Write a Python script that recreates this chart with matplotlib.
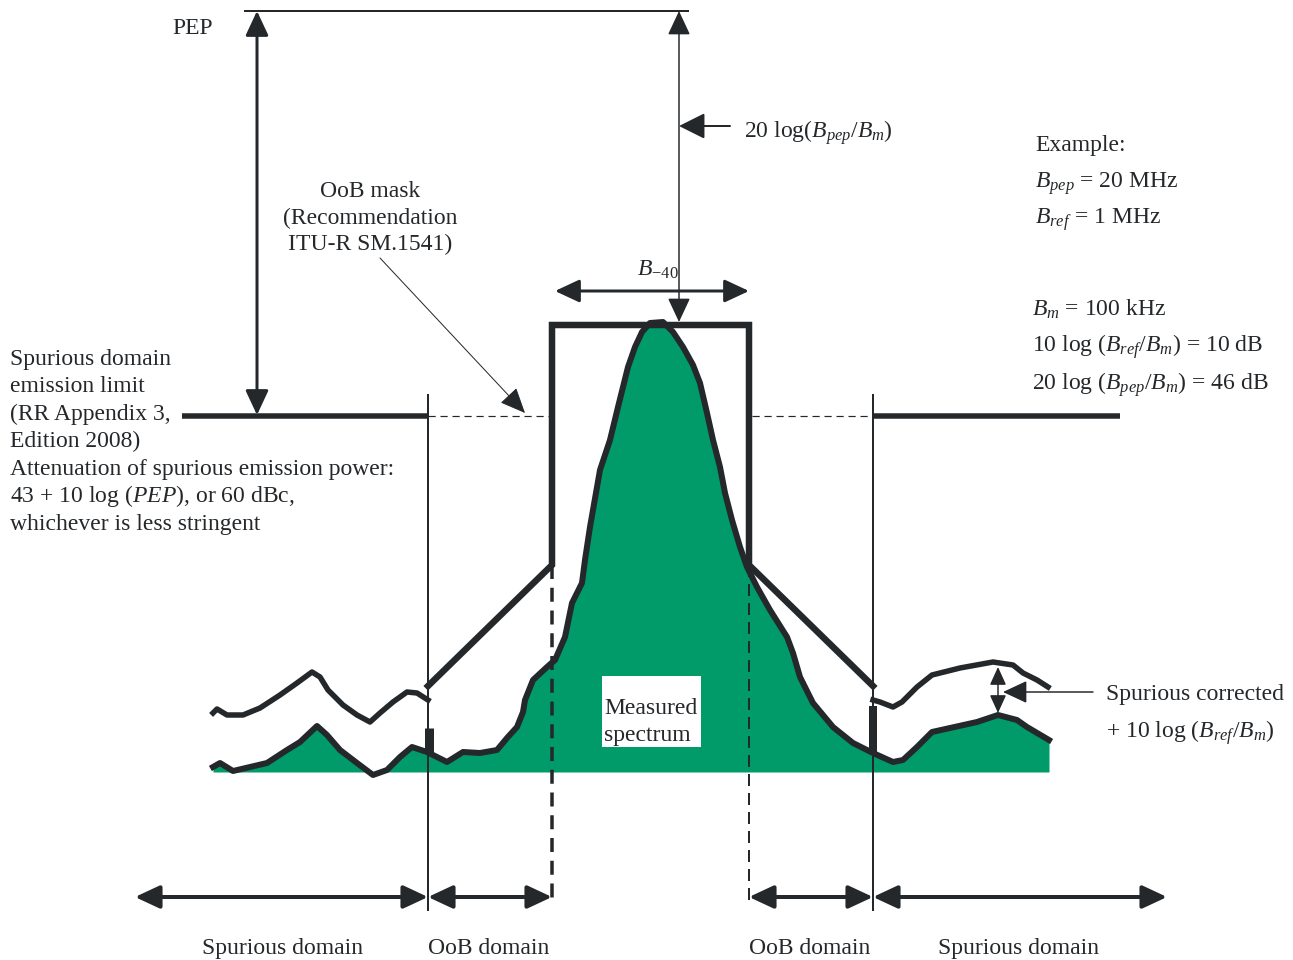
import matplotlib
matplotlib.use("Agg")
import matplotlib.pyplot as plt
from matplotlib.patches import Rectangle

plt.rcParams['font.family'] = ['Liberation Serif', 'DejaVu Serif']
plt.rcParams['mathtext.fontset'] = 'custom'
plt.rcParams['mathtext.rm'] = 'Liberation Serif'
plt.rcParams['mathtext.it'] = 'Liberation Serif:italic'
plt.rcParams['mathtext.bf'] = 'Liberation Serif:bold'

# ---------------- data (diagram units = reference pixels) ----------------
spec_x = [213, 220, 233, 250, 267, 287, 300, 317, 327, 340, 357, 373, 387, 400, 412, 427,
          447, 463, 480, 497, 507, 517, 523, 525, 533, 547, 555, 565, 572, 582, 585, 590,
          600, 610, 618, 628, 635, 642, 650, 663, 673, 683, 693, 700, 707, 713, 720, 725,
          732, 740, 747, 757, 770, 787, 793, 800, 813, 833, 853, 873, 893, 903, 917, 932,
          950, 977, 998, 1017, 1027, 1049]
spec_y = [767, 763, 771, 767, 763, 750, 742, 726, 735, 750, 763, 775, 770, 757, 747, 752,
          762, 752, 753, 750, 738, 727, 712, 700, 680, 667, 660, 637, 603, 583, 560, 527,
          470, 440, 407, 367, 347, 332, 323, 322, 332, 347, 365, 383, 413, 440, 467, 493,
          520, 547, 567, 587, 610, 637, 653, 677, 703, 727, 743, 753, 762, 760, 747, 732,
          728, 722, 715, 720, 727, 740]
spec_base = 772

corr_left_x = [213, 217, 227, 243, 260, 280, 297, 312, 320, 328, 343, 357, 370, 380, 393, 407, 417, 428]
corr_left_y = [713, 709, 715, 715, 708, 695, 683, 672, 677, 690, 705, 715, 722, 713, 702, 692, 693, 700]
corr_right_x = [873, 880, 893, 902, 917, 932, 960, 993, 1013, 1023, 1037, 1048]
corr_right_y = [700, 702, 707, 702, 687, 675, 668, 662, 665, 673, 680, 687]

mask_x = [428, 552, 552, 749, 749, 873]
mask_y = [686, 565, 325, 325, 565, 686]

limit_y = 416
limit_left = [182, 428]
limit_right = [873, 1120]

domain_edges = [135, 428, 552, 749, 873, 1167]
domain_labels = ["Spurious domain", "OoB domain", "OoB domain", "Spurious domain"]
domain_label_x = [283, 489, 810, 1019]

left_text = ["Spurious domain", "emission limit", "(RR Appendix 3,", "Edition 2008)",
             "Attenuation of spurious emission power:", "43 + 10 log ($PEP$), or 60 dBc,",
             "whichever is less stringent"]
left_text_y = [365, 392, 420, 447, 475, 502, 530]

example_text = ["Example:", "$B_{pep}$ = 20 MHz", "$B_{ref}$ = 1 MHz",
                "$B_m$ = 100 kHz", "10 log ($B_{ref}/B_m$) = 10 dB",
                "20 log ($B_{pep}/B_m$) = 46 dB"]
example_x = [1035, 1035, 1035, 1032, 1032, 1032]
example_y = [151, 188, 224, 316, 352, 390]

oob_text = ["OoB mask", "(Recommendation", "ITU-R SM.1541)"]
oob_text_y = [197, 224, 250]

DARK = '#25282b'
GREEN = '#009b69'
PX = 0.72  # points per pixel at dpi 100

fig = plt.figure(figsize=(12.93, 9.6), dpi=100)
ax = fig.add_axes([0, 0, 1, 1])
ax.set_xlim(0, 1293)
ax.set_ylim(960, 0)
ax.axis('off')


def arrow(x0, y0, x1, y1, style='-|>', lw=3, hl=0.75, hw=0.35, ms=20, z=5):
    ax.annotate('', xy=(x1, y1), xytext=(x0, y0),
                arrowprops=dict(arrowstyle=f'{style},head_length={hl},head_width={hw}',
                                lw=lw * PX, color=DARK, shrinkA=0, shrinkB=0,
                                mutation_scale=ms), zorder=z)


# spectrum fill and outline
ax.fill_between(spec_x, spec_y, spec_base, color=GREEN, lw=0, zorder=1)
ax.plot(spec_x, spec_y, color=DARK, lw=6 * PX, solid_joinstyle='round', zorder=3)
ax.plot(corr_left_x, corr_left_y, color=DARK, lw=5.5 * PX, solid_joinstyle='round', zorder=3)
ax.plot(corr_right_x, corr_right_y, color=DARK, lw=5.5 * PX, solid_joinstyle='round', zorder=3)

# mask
ax.plot(mask_x, mask_y, color=DARK, lw=6.5 * PX, solid_joinstyle='miter', zorder=4)

# spurious limit lines
ax.plot(limit_left, [limit_y, limit_y], color=DARK, lw=5.5 * PX, solid_capstyle='butt', zorder=4)
ax.plot(limit_right, [limit_y, limit_y], color=DARK, lw=5.5 * PX, solid_capstyle='butt', zorder=4)
ax.plot([428, 549], [limit_y, limit_y], color=DARK, lw=1.2 * PX, ls=(0, (6, 4)), zorder=2)
ax.plot([752, 873], [limit_y, limit_y], color=DARK, lw=1.2 * PX, ls=(0, (6, 4)), zorder=2)

# domain boundaries
ax.plot([428, 428], [395, 910], color=DARK, lw=2 * PX, zorder=4)
ax.plot([873, 873], [395, 910], color=DARK, lw=2 * PX, zorder=4)
ax.plot([552, 552], [565, 905], color=DARK, lw=3.5 * PX, ls=(0, (4, 2.5)), zorder=4)
ax.plot([749, 749], [565, 905], color=DARK, lw=2 * PX, ls=(0, (6, 3.5)), zorder=4)
ax.plot([429, 429], [728, 752], color=DARK, lw=9 * PX, solid_capstyle='butt', zorder=4)
ax.plot([873, 873], [706, 752], color=DARK, lw=8 * PX, solid_capstyle='butt', zorder=4)

# PEP reference line and arrows
ax.plot([245, 688], [11, 11], color=DARK, lw=2 * PX, zorder=4)
arrow(257, 415, 257, 11, style='<|-|>', lw=3)
arrow(679, 322, 679, 11, style='<|-|>', lw=1.5)
arrow(730, 126, 679, 126, style='-|>', lw=2, hl=0.8, hw=0.4)

# B-40 arrow
arrow(555, 291, 749, 291, style='<|-|>', lw=3)

# OoB mask leader
arrow(380, 258, 525, 413, style='-|>', lw=1, hl=0.8, hw=0.35)

# bottom domain arrows
for a, b in zip(domain_edges[:-1], domain_edges[1:]):
    if a == 552:
        continue
    arrow(a, 897, b, 897, style='<|-|>', lw=4)

# spurious corrected
arrow(998, 713, 998, 667, style='<|-|>', lw=1.5, hl=0.55, hw=0.25)
arrow(1093, 692, 1003, 692, style='-|>', lw=1.5, hl=0.75, hw=0.35)

# texts
FS = 17
ax.text(172, 34, "PEP", fontsize=FS, color=DARK, va='baseline')
ax.text(744, 138, "20 log($B_{pep}/B_m$)", fontsize=FS, color=DARK, va='baseline')
ax.text(637, 276, r"$B_{-40}$", fontsize=FS, color=DARK, va='baseline')
for s, y in zip(oob_text, oob_text_y):
    ax.text(370, y, s, fontsize=FS, color=DARK, va='baseline', ha='center')
for s, y in zip(left_text, left_text_y):
    ax.text(10, y, s, fontsize=FS, color=DARK, va='baseline')
for s, x, y in zip(example_text, example_x, example_y):
    ax.text(x, y, s, fontsize=FS, color=DARK, va='baseline')
ax.text(1106, 700, "Spurious corrected", fontsize=FS, color=DARK, va='baseline')
ax.text(1106, 738, "+ 10 log ($B_{ref}/B_m$)", fontsize=FS, color=DARK, va='baseline')
for s, x in zip(domain_labels, domain_label_x):
    ax.text(x, 954, s, fontsize=FS, color=DARK, va='baseline', ha='center')

ax.add_patch(Rectangle((602, 676), 99, 71, facecolor='white', edgecolor='none', zorder=6))
ax.text(604, 714, "Measured", fontsize=FS, color=DARK, va='baseline', zorder=7)
ax.text(604, 741, "spectrum", fontsize=FS, color=DARK, va='baseline', zorder=7)

fig.savefig("out.png", dpi=100)
